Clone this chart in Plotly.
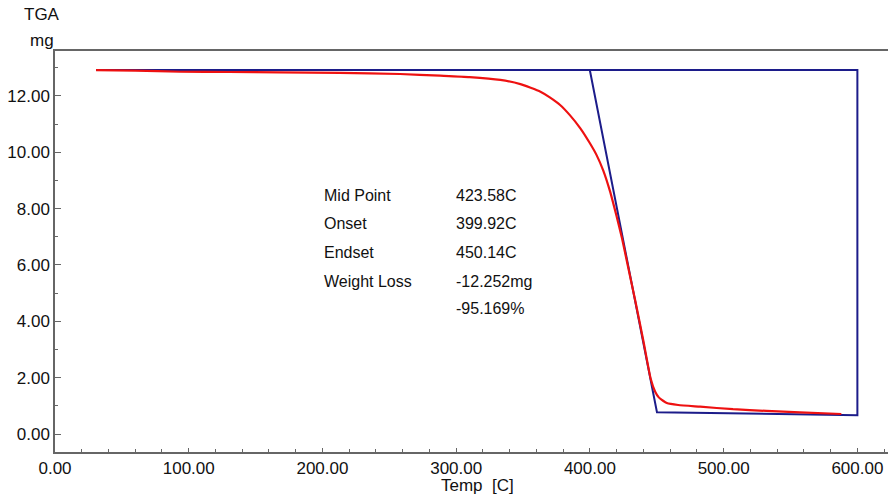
import plotly.graph_objects as go

# ---- data ----
temp_red = [30.7, 60, 93.5, 130, 168, 213, 258, 288, 310, 333, 348, 363, 370, 377.7, 385,
            392.7, 400, 405, 410, 415, 420, 424, 428, 433.8, 440, 445.5, 448.8, 451.5,
            454.7, 457.5, 466, 482.4, 507, 532, 557, 588]
mass_red = [12.92, 12.90, 12.86, 12.85, 12.84, 12.82, 12.78, 12.72, 12.67, 12.57, 12.42,
            12.15, 11.95, 11.68, 11.32, 10.86, 10.32, 9.90, 9.35, 8.62, 7.72, 6.95, 6.05,
            4.76, 3.30, 1.95, 1.50, 1.30, 1.18, 1.10, 1.03, 0.97, 0.88, 0.82, 0.77, 0.71]

# analysis construction lines (baseline, onset tangent, end baseline)
temp_blue = [30.7, 600.0, 600.0, 450.14, 399.92]
mass_blue = [12.92, 12.92, 0.67, 0.77, 12.92]

labels = ["Mid Point", "Onset", "Endset", "Weight Loss", ""]
values = ["423.58C", "399.92C", "450.14C", "-12.252mg", "-95.169%"]

xticks = [0, 100, 200, 300, 400, 500, 600]
yticks = [0, 2, 4, 6, 8, 10, 12]

FONT = "Liberation Sans, Arial, sans-serif"

fig = go.Figure()
fig.add_trace(go.Scatter(x=temp_blue, y=mass_blue, mode="lines",
                         line=dict(color="#1c1c8a", width=2), hoverinfo="skip"))
fig.add_trace(go.Scatter(x=temp_red, y=mass_red, mode="lines",
                         line=dict(color="#ee1111", width=2.2, shape="spline", smoothing=0.5)))

# text block
row_y = [8.48, 7.48, 6.44, 5.41, 4.47]
for lab, val, yy in zip(labels, values, row_y):
    if lab:
        fig.add_annotation(x=199.4, y=yy, xref="x", yref="y", text=lab, showarrow=False,
                           xanchor="left", yanchor="middle",
                           font=dict(size=16, color="#111", family=FONT))
    fig.add_annotation(x=298.4, y=yy, xref="x", yref="y", text=val, showarrow=False,
                       xanchor="left", yanchor="middle",
                       font=dict(size=16, color="#111", family=FONT))

fig.add_annotation(x=-0.0156, y=1.0898, xref="paper", yref="paper", text="TGA",
                   showarrow=False, xanchor="center", yanchor="middle",
                   font=dict(size=17, color="#111", family=FONT))
fig.add_annotation(x=-0.0156, y=1.027, xref="paper", yref="paper", text="mg",
                   showarrow=False, xanchor="center", yanchor="middle",
                   font=dict(size=17, color="#111", family=FONT))
fig.add_annotation(x=0.5078, y=-0.0823, xref="paper", yref="paper", text="Temp  [C]",
                   showarrow=False, xanchor="center", yanchor="middle",
                   font=dict(size=17, color="#111", family=FONT))

fig.update_layout(
    width=888, height=497,
    margin=dict(l=55, r=0, t=51, b=45),
    paper_bgcolor="white", plot_bgcolor="white",
    showlegend=False,
    font=dict(family=FONT, size=17, color="#111"),
    xaxis=dict(range=[0, 622.9], tickvals=xticks,
               ticktext=[f"{v:.2f}" for v in xticks],
               showgrid=False, zeroline=False, showline=True, linecolor="#666",
               linewidth=1.5, mirror=True, ticks="inside", ticklen=4, tickcolor="#666",
               minor=dict(dtick=20, ticks="inside", ticklen=3, tickcolor="#666"),
               tickfont=dict(size=17, color="#111", family=FONT)),
    yaxis=dict(range=[-0.639, 13.596], tickvals=yticks,
               ticktext=[f"{v:.2f}" for v in yticks],
               showgrid=False, zeroline=False, showline=True, linecolor="#666",
               linewidth=1.5, ticks="inside", ticklen=6, tickcolor="#666",
               minor=dict(dtick=1, ticks="inside", ticklen=3, tickcolor="#666"),
               tickfont=dict(size=17, color="#111", family=FONT)),
)

fig.write_html("out.html")
